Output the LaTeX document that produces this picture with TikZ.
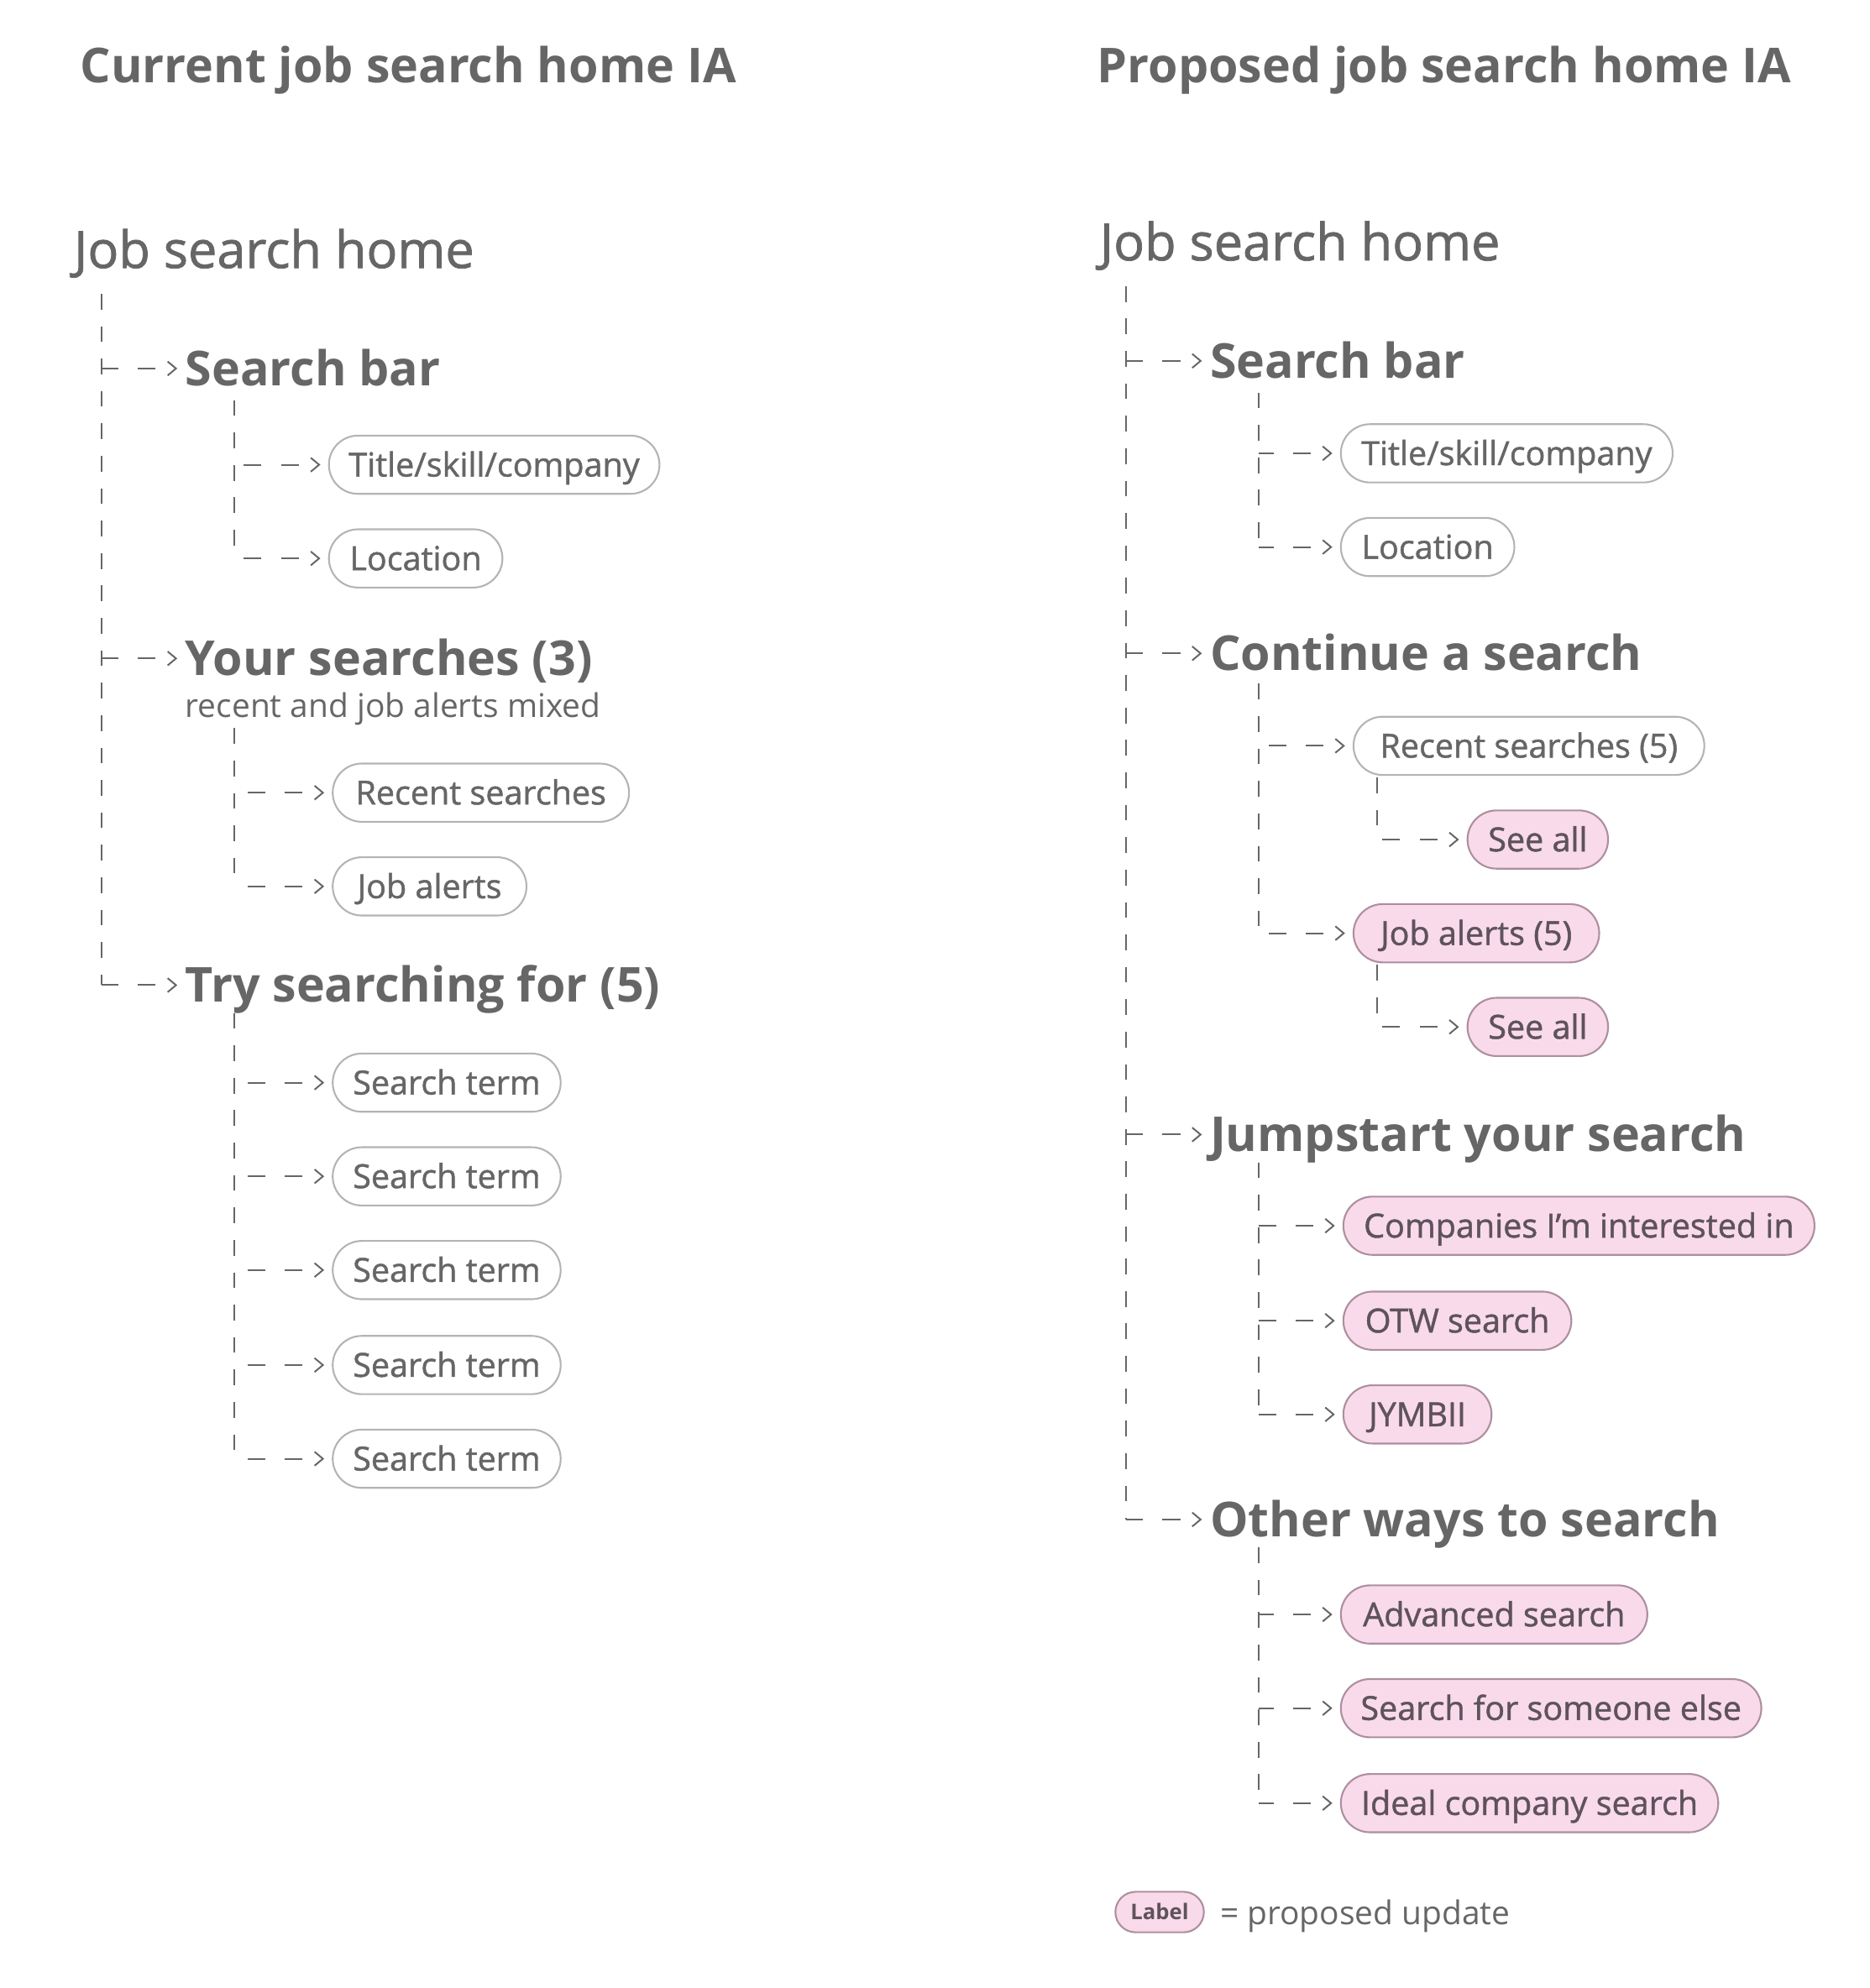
\documentclass[tikz,border=0pt]{standalone}
\usepackage{fontspec}
\setmainfont{Open Sans}
\newfontfamily\mediumfont{Open Sans}[FakeBold=1.2]
\usetikzlibrary{arrows.meta}
\definecolor{ink}{HTML}{666666}
\definecolor{rim}{HTML}{B4B4B4}
\definecolor{blush}{HTML}{F9DAEB}
\definecolor{blushrim}{HTML}{AD8F9F}
\definecolor{blushink}{HTML}{5E535C}

\begin{document}
\begin{tikzpicture}[x=0.5pt, y={(0,-0.5pt)},
  every node/.style={text=ink, inner sep=0pt},
  title/.style={anchor=west, font=\bfseries\fontsize{19}{22}\selectfont, text height=13.5pt, text depth=0pt},
  root/.style={anchor=west, font=\mediumfont\fontsize{20.3}{24}\selectfont, text height=14.6pt, text depth=0pt},
  heading/.style={anchor=west, font=\bfseries\fontsize{19}{22}\selectfont, text height=13.6pt, text depth=0pt},
  note/.style={anchor=west, font=\fontsize{12.9}{16}\selectfont, text height=9.2pt, text depth=0pt},
  pill/.style={anchor=west, draw=rim, line width=0.7pt, rounded corners=11.5pt, minimum height=23pt, minimum width=#1, inner xsep=6pt, font=\mediumfont\fontsize{13.1}{16}\selectfont, text height=9.3pt, text depth=0pt},
  pill/.default=0pt,
  newpill/.style={pill=#1, draw=blushrim, fill=blush, text=blushink},
  newpill/.default=0pt,
  trunk/.style={draw=ink, line width=0.66pt, dash pattern=on 6.2pt off 6.6pt},
  link/.style={draw=ink, line width=0.66pt, dash pattern=on 7pt off 7.7pt, dash phase=7pt, {Straight Barb[length=3.3pt,width=5.5pt]}-, shorten <=3pt}
]
\useasboundingbox (0,0) rectangle (1476,1570);

\node[title] (headL) at (63,52) {Current job search home IA};
\node[root] (homeL) at (58,197) {Job search home};
\node[heading] (barL) at (146,291) {Search bar};
\node[pill=130.5pt] (titleL) at (259,367) {Title/skill/company};
\node[pill=68.5pt] (locL) at (259,441) {Location};
\node[heading] (yoursL) at (146,520) {Your searches (3)};
\node[note] (mixL) at (146,557) {recent and job alerts mixed};
\node[pill=117pt] (recentL) at (262,626) {Recent searches};
\node[pill=76.5pt] (alertsL) at (262,700) {Job alerts};
\node[heading] (tryL) at (146,778) {Try searching for (5)};
\foreach \y [count=\i] in {855,929,1003,1078,1152}
  \node[pill=90pt] (termL\i) at (262,\y) {Search term};

\coordinate (trunkL) at (80,232);
\coordinate (barLt) at (185,316);
\coordinate (yoursLt) at (185,575);
\coordinate (tryLt) at (185,800);
\draw[trunk] (trunkL) -- (trunkL |- tryL.west);
\draw[trunk] (barLt) -- (barLt |- locL.west);
\draw[trunk] (yoursLt) -- (yoursLt |- alertsL.west);
\draw[trunk] (tryLt) -- (tryLt |- termL5.west);
\foreach \n in {barL,yoursL,tryL} \draw[link] (\n.west) -- (trunkL |- \n.west);
\foreach \n in {titleL,locL} \draw[link] (\n.west) -- (barLt |- \n.west);
\foreach \n in {recentL,alertsL} \draw[link] (\n.west) -- (yoursLt |- \n.west);
\foreach \i in {1,...,5} \draw[link] (termL\i.west) -- (tryLt |- termL\i.west);

\node[title] (headR) at (866,52) {Proposed job search home IA};
\node[root] (homeR) at (868,191) {Job search home};
\node[heading] (barR) at (955,285) {Search bar};
\node[pill=131pt] (titleR) at (1058,358) {Title/skill/company};
\node[pill=68.5pt] (locR) at (1058,432) {Location};
\node[heading] (contR) at (955,516) {Continue a search};
\node[pill=138.5pt] (recentR) at (1068,589) {Recent searches (5)};
\node[newpill=55.5pt] (seeallA) at (1158,663) {See all};
\node[newpill=97pt] (alertsR) at (1068,737) {Job alerts (5)};
\node[newpill=55.5pt] (seeallB) at (1158,811) {See all};
\node[heading] (jumpR) at (955,896) {Jumpstart your search};
\node[newpill=186pt] (companiesR) at (1060,968) {Companies I’m interested in};
\node[newpill=90pt] (otwR) at (1060,1043) {OTW search};
\node[newpill=58.5pt] (jymbiiR) at (1060,1117) {JYMBII};
\node[heading] (otherR) at (955,1200) {Other ways to search};
\node[newpill=121pt] (advR) at (1058,1275) {Advanced search};
\node[newpill=166pt] (someoneR) at (1058,1349) {Search for someone else};
\node[newpill=149pt] (idealR) at (1058,1424) {Ideal company search};

\coordinate (trunkR) at (889,226);
\coordinate (barRt) at (994,310);
\coordinate (contRt) at (994,540);
\coordinate (recentRt) at (1087,614);
\coordinate (alertsRt) at (1087,762);
\coordinate (jumpRt) at (994,918);
\coordinate (otherRt) at (994,1222);
\draw[trunk] (trunkR) -- (trunkR |- otherR.west);
\draw[trunk] (barRt) -- (barRt |- locR.west);
\draw[trunk] (contRt) -- (contRt |- alertsR.west);
\draw[trunk] (recentRt) -- (recentRt |- seeallA.west);
\draw[trunk] (alertsRt) -- (alertsRt |- seeallB.west);
\draw[trunk] (jumpRt) -- (jumpRt |- jymbiiR.west);
\draw[trunk] (otherRt) -- (otherRt |- idealR.west);
\foreach \n in {barR,contR,jumpR,otherR} \draw[link] (\n.west) -- (trunkR |- \n.west);
\foreach \n in {titleR,locR} \draw[link] (\n.west) -- (barRt |- \n.west);
\foreach \n in {recentR,alertsR} \draw[link] (\n.west) -- (contRt |- \n.west);
\draw[link] (seeallA.west) -- (recentRt |- seeallA.west);
\draw[link] (seeallB.west) -- (alertsRt |- seeallB.west);
\foreach \n in {companiesR,otwR,jymbiiR} \draw[link] (\n.west) -- (jumpRt |- \n.west);
\foreach \n in {advR,someoneR,idealR} \draw[link] (\n.west) -- (otherRt |- \n.west);

\node[newpill=33.5pt, minimum height=16pt, rounded corners=8pt, font=\bfseries\fontsize{8.5}{10}\selectfont, text height=6pt] (key) at (880,1510) {Label};
\node[note] (keytext) at (963,1511) {= proposed update};

\end{tikzpicture}
\end{document}
